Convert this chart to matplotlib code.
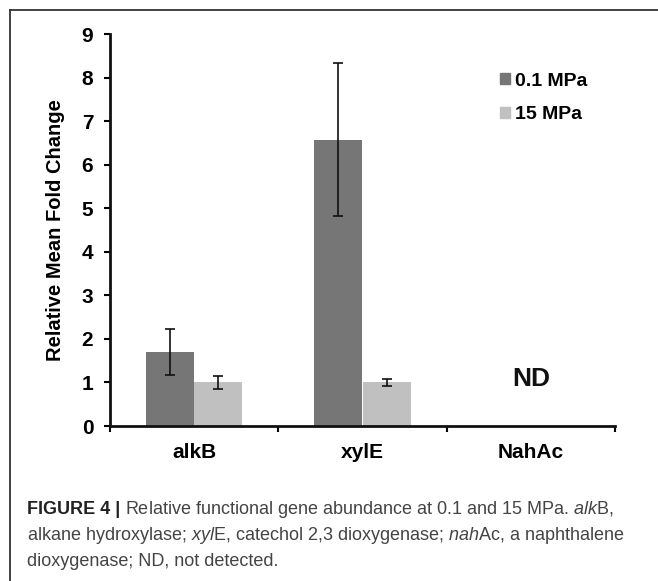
import matplotlib
matplotlib.use("Agg")
import numpy as np
import matplotlib.pyplot as plt
from matplotlib.patches import Patch
from matplotlib.lines import Line2D

# ==============================
# data
# ==============================
genes = ["alkB", "xylE", "NahAc"]
series_names = ["0.1 MPa", "15 MPa"]
low_p = [1.70, 6.57, np.nan]      # 0.1 MPa
low_p_err = [0.52, 1.76, np.nan]
high_p = [1.00, 1.00, np.nan]     # 15 MPa
high_p_err = [0.15, 0.09, np.nan]
y_ticks = [0, 1, 2, 3, 4, 5, 6, 7, 8, 9]

dark = "#767676"
light = "#c0c0c0"

plt.rcParams["font.family"] = ["Liberation Sans", "DejaVu Sans"]
plt.rcParams["mathtext.fontset"] = "custom"
plt.rcParams["mathtext.rm"] = "Liberation Sans"
plt.rcParams["mathtext.it"] = "Liberation Sans:italic"
plt.rcParams["mathtext.bf"] = "Liberation Sans:bold"

W, H = 658, 581
fig = plt.figure(figsize=(W / 100, H / 100), dpi=100)
ax = fig.add_axes([110 / W, 1 - 426 / H, 505 / W, 392 / H])

x = np.arange(len(genes)) + 0.5
bw = 0.286
ax.bar(x - bw / 2, low_p, bw, color=dark, label=series_names[0])
ax.bar(x + bw / 2, high_p, bw, color=light, label=series_names[1])
ax.errorbar(x - bw / 2, low_p, yerr=low_p_err, fmt="none", ecolor="#111111",
            elinewidth=1.2, capsize=3.8, capthick=1.2)
ax.errorbar(x + bw / 2, high_p, yerr=high_p_err, fmt="none", ecolor="#111111",
            elinewidth=1.2, capsize=3.8, capthick=1.2)

ax.text(x[2], 1.08, "ND", ha="center", va="center", fontsize=19,
        fontweight="bold", color="#111111")

ax.set_xlim(0, 3)
ax.set_ylim(0, 9)
ax.set_yticks(y_ticks)
ax.set_yticklabels([str(v) for v in y_ticks], fontsize=15, fontweight="bold")
ax.set_xticks([0, 1, 2, 3])
ax.set_xticklabels([])
ax.set_xticks(x, minor=True)
ax.set_xticklabels(genes, minor=True, fontsize=15, fontweight="bold")
ax.tick_params(axis="x", which="minor", length=0, pad=12)
ax.tick_params(axis="x", which="major", length=4, width=1.5, direction="out")
ax.tick_params(axis="y", length=4, width=1.5, direction="out", pad=8)

for s in ["top", "right"]:
    ax.spines[s].set_visible(False)
for s in ["left", "bottom"]:
    ax.spines[s].set_linewidth(2)
    ax.spines[s].set_color("#111111")

ax.set_ylabel("Relative Mean Fold Change", fontsize=14.5, fontweight="bold")
ax.yaxis.set_label_coords(-0.089, 0.5)

handles = [Patch(color=dark), Patch(color=light)]
ax.legend(handles, series_names, loc="upper left", bbox_to_anchor=(0.753, 0.926),
          frameon=False, borderpad=0, handlelength=0.5, handleheight=0.5,
          handletextpad=0.25, labelspacing=0.86,
          prop={"size": 14, "weight": "bold"})

# border of the figure panel
fig.add_artist(Line2D([10 / W, 10 / W], [0, 1 - 10 / H], color="#333333", lw=1.3))
fig.add_artist(Line2D([10 / W, 1], [1 - 10 / H, 1 - 10 / H], color="#333333", lw=1.3))

# ==============================
# caption (bold head + mathtext for italic gene names)
# ==============================
cap_head = "FIGURE 4 | "
cap_lines = [
    r"Relative functional gene abundance at 0.1 and 15 MPa. $\mathit{alk}$B,",
    r"alkane hydroxylase; $\mathit{xyl}$E, catechol 2,3 dioxygenase; $\mathit{nah}$Ac, a naphthalene",
    "dioxygenase; ND, not detected.",
]
line_y = [510, 535, 561]
cap_size = 13

renderer = fig.canvas.get_renderer()
head = fig.text(27 / W, 1 - line_y[0] / H, cap_head, fontsize=cap_size,
                fontweight="bold", color="#222222", va="center", ha="left")
head_w = head.get_window_extent(renderer=renderer).width

for i, (txt, yy) in enumerate(zip(cap_lines, line_y)):
    px = 27 + (head_w if i == 0 else 0)
    fig.text(px / W, 1 - yy / H, txt, fontsize=cap_size, color="#444444",
             va="center", ha="left")

fig.savefig("out.png", dpi=100)
